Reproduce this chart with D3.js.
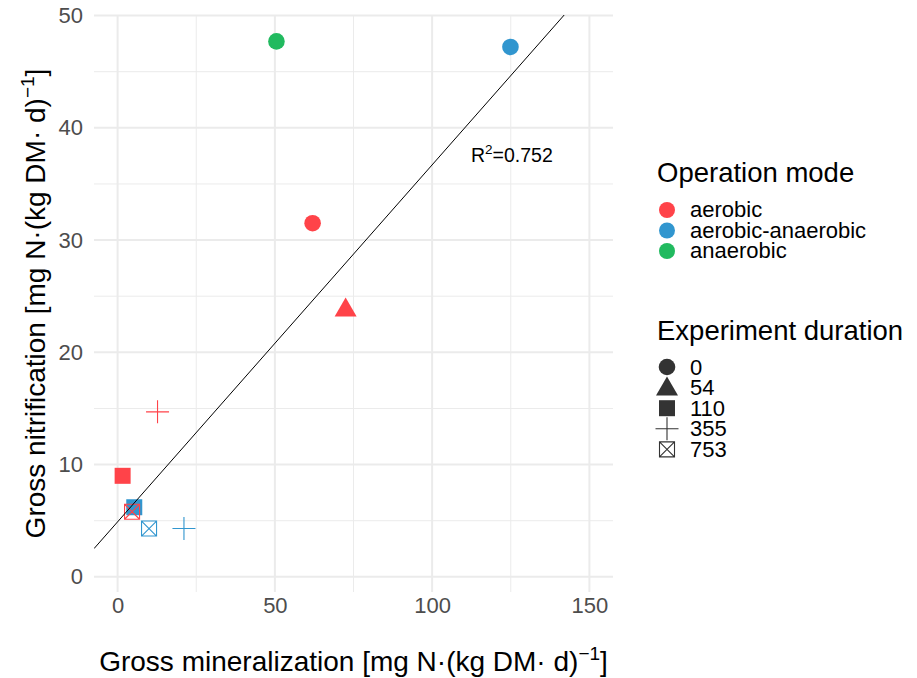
<!DOCTYPE html>
<html>
<head>
<meta charset="utf-8">
<title>Gross nitrification vs mineralization</title>
<script src="https://d3js.org/d3.v7.min.js"></script>
<style>
  body { margin: 0; background: #fff; }
  text { font-family: "Liberation Sans", Arial, sans-serif; }
</style>
</head>
<body>
<svg width="917" height="678"></svg>
<script>
// data
const mineralization = [50.5, 124.9, 62.0, 72.5, 1.6, 5.3, 12.7, 21.1, 4.6, 10.0];
const nitrification  = [47.7, 47.2, 31.5, 23.9, 9.0, 6.2, 14.7, 4.3, 5.8, 4.3];
const mode     = ["anaerobic", "aerobic-anaerobic", "aerobic", "aerobic", "aerobic",
                  "aerobic-anaerobic", "aerobic", "aerobic-anaerobic", "aerobic", "aerobic-anaerobic"];
const duration = ["0", "0", "0", "54", "110", "110", "355", "355", "753", "753"];

const modes = ["aerobic", "aerobic-anaerobic", "anaerobic"];
const durations = ["0", "54", "110", "355", "753"];
const modeColors = ["#FF4349", "#3196CF", "#21BA5F"];

const xTicks = [0, 50, 100, 150];
const yTicks = [0, 10, 20, 30, 40, 50];
const fitIntercept = 4.9, fitSlope = 0.318, r2Label = "0.752";

const svg = d3.select("svg");
const panel = { left: 94, right: 613, top: 15, bottom: 592 };

const x = d3.scaleLinear().domain([-7.5, 157.5]).range([panel.left, panel.right]);
const y = d3.scaleLinear().domain([-1.35, 50.05]).range([panel.bottom, panel.top]);
const color = d3.scaleOrdinal().domain(modes).range(modeColors);

// grid
const grid = svg.append("g");
const minorX = d3.range(-25, 176, 25).filter(v => v % 50 !== 0 && v > -7.5 && v < 157.5);
const minorY = d3.range(5, 50, 10);
grid.selectAll(".mx").data(minorX).join("line")
  .attr("x1", d => x(d)).attr("x2", d => x(d)).attr("y1", panel.top).attr("y2", panel.bottom)
  .attr("stroke", "#EBEBEB").attr("stroke-width", 1);
grid.selectAll(".my").data(minorY).join("line")
  .attr("y1", d => y(d)).attr("y2", d => y(d)).attr("x1", panel.left).attr("x2", panel.right)
  .attr("stroke", "#EBEBEB").attr("stroke-width", 1);
grid.selectAll(".gx").data(xTicks).join("line")
  .attr("x1", d => x(d)).attr("x2", d => x(d)).attr("y1", panel.top).attr("y2", panel.bottom)
  .attr("stroke", "#EBEBEB").attr("stroke-width", 2);
grid.selectAll(".gy").data(yTicks).join("line")
  .attr("y1", d => y(d)).attr("y2", d => y(d)).attr("x1", panel.left).attr("x2", panel.right)
  .attr("stroke", "#EBEBEB").attr("stroke-width", 2);

// axes (labels only, like theme_minimal)
const xAxis = svg.append("g").attr("transform", `translate(0,${panel.bottom})`)
  .call(d3.axisBottom(x).tickValues(xTicks).tickSize(0).tickPadding(5));
const yAxis = svg.append("g").attr("transform", `translate(${panel.left},0)`)
  .call(d3.axisLeft(y).tickValues(yTicks).tickSize(0).tickPadding(11));
[xAxis, yAxis].forEach(a => {
  a.select(".domain").remove();
  a.selectAll("text").attr("font-size", 22).attr("fill", "#4D4D4D")
    .attr("font-family", "Liberation Sans, Arial, sans-serif");
});

// symbols
function drawShape(g, shape, col) {
  if (shape === "0") {
    g.append("circle").attr("r", 8.3).attr("fill", col);
  } else if (shape === "54") {
    g.append("path").attr("d", "M0,-11L11,8L-11,8Z").attr("fill", col);
  } else if (shape === "110") {
    g.append("rect").attr("x", -8).attr("y", -8).attr("width", 16).attr("height", 16).attr("fill", col);
  } else if (shape === "355") {
    g.append("path").attr("d", "M-11.5,0H11.5M0,-11.5V11.5")
      .attr("stroke", col).attr("stroke-width", 1.1).attr("fill", "none");
  } else {
    g.append("path").attr("d", "M-7.5,-7.5H7.5V7.5H-7.5ZM-7.5,-7.5L7.5,7.5M7.5,-7.5L-7.5,7.5")
      .attr("stroke", col).attr("stroke-width", 1.1).attr("fill", "none");
  }
}

const pts = svg.append("g");
mineralization.forEach((mx, i) => {
  const g = pts.append("g").attr("transform", `translate(${x(mx)},${y(nitrification[i])})`);
  drawShape(g, duration[i], color(mode[i]));
});

// fitted line, clipped to panel
svg.append("clipPath").attr("id", "clip").append("rect")
  .attr("x", panel.left).attr("y", panel.top)
  .attr("width", panel.right - panel.left).attr("height", panel.bottom - panel.top);
const xd = x.domain();
svg.append("line").attr("clip-path", "url(#clip)")
  .attr("x1", x(xd[0])).attr("y1", y(fitIntercept + fitSlope * xd[0]))
  .attr("x2", x(xd[1])).attr("y2", y(fitIntercept + fitSlope * xd[1]))
  .attr("stroke", "#000").attr("stroke-width", 1);

const r2 = svg.append("text").attr("x", 471).attr("y", 162).attr("font-size", 19.5).attr("fill", "#000");
r2.append("tspan").text("R");
r2.append("tspan").attr("dy", -8).attr("font-size", 13.5).text("2");
r2.append("tspan").attr("dy", 8).text("=" + r2Label);

// axis titles
const xt = svg.append("text").attr("x", (panel.left + panel.right) / 2).attr("y", 671)
  .attr("text-anchor", "middle").attr("font-size", 28).attr("fill", "#000");
xt.append("tspan").text("Gross mineralization [mg N\u00B7(kg DM\u00B7 d)");
xt.append("tspan").attr("dy", -11).attr("font-size", 19).text("\u22121");
xt.append("tspan").attr("dy", 11).text("]");

const yt = svg.append("text")
  .attr("transform", `translate(45,${(panel.top + panel.bottom) / 2}) rotate(-90)`)
  .attr("text-anchor", "middle").attr("font-size", 28).attr("fill", "#000");
yt.append("tspan").text("Gross nitrification [mg N\u00B7(kg DM\u00B7 d)");
yt.append("tspan").attr("dy", -11).attr("font-size", 19).text("\u22121");
yt.append("tspan").attr("dy", 11).text("]");

// legends
const leg1 = svg.append("g");
leg1.append("text").attr("x", 657).attr("y", 182).attr("font-size", 27.5).text("Operation mode");
modes.forEach((m, i) => {
  const yy = 210 + i * 20.5;
  leg1.append("circle").attr("cx", 667).attr("cy", yy).attr("r", 8).attr("fill", color(m));
  leg1.append("text").attr("x", 690).attr("y", yy + 7).attr("font-size", 22).text(m);
});

const leg2 = svg.append("g");
leg2.append("text").attr("x", 657).attr("y", 340).attr("font-size", 27.5).text("Experiment duration");
durations.forEach((d, i) => {
  const yy = 367 + i * 20.6;
  const g = leg2.append("g").attr("transform", `translate(667,${yy})`);
  drawShape(g, d, "#333333");
  leg2.append("text").attr("x", 690).attr("y", yy + 7.5).attr("font-size", 22).text(d);
});
</script>
</body>
</html>
